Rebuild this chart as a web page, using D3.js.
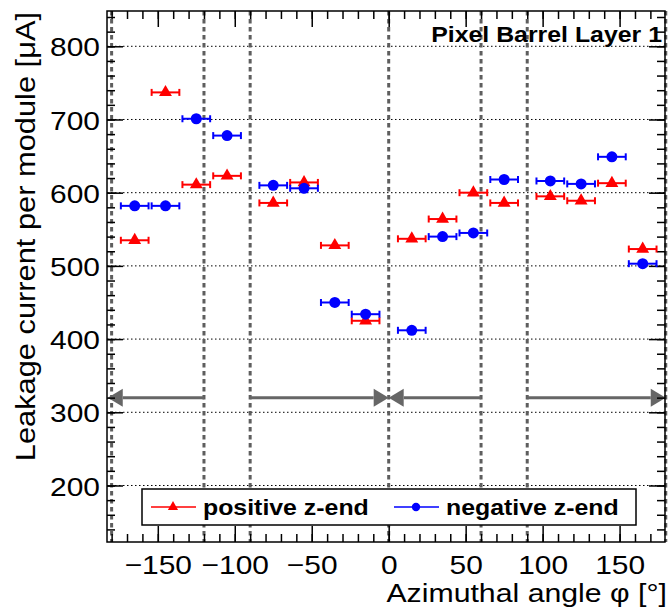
<!DOCTYPE html>
<html>
<head>
<meta charset="utf-8">
<script src="https://cdn.jsdelivr.net/npm/d3@7"></script>
<style>
  body { margin: 0; background: #fff; }
  text { font-family: "Liberation Sans", Arial, Helvetica, sans-serif; }
</style>
</head>
<body>
<svg id="chart" width="672" height="608"></svg>
<script>
// Ladder azimuthal positions (degrees) and leakage current per module (µA)
const phi       = [-165, -145, -125, -105, -75, -55, -35, -15, 15, 35, 55, 75, 105, 125, 145, 165];
const positiveZ = [535, 737, 611, 623, 586, 614, 528, 425, 537, 564, 600, 586, 595, 589, 613, 523];
const negativeZ = [582, 582, 701, 678, 610, 606, 450, 434, 412, 540, 545, 618, 616, 612, 649, 503];
const phiHalfWidth = 9;

// Axis ticks
const xMajorTicks = [-150, -100, -50, 0, 50, 100, 150];
const xMinorTicks = d3.range(-180, 180, 10);
const yMajorTicks = [200, 300, 400, 500, 600, 700, 800];
const yMinorTicks = d3.range(140, 848, 20);

// Cooling-loop sector boundaries and flow arrows [from, tip]
const sectorEdges = [-180, -120, -90, 0, 60, 90, 180];
const arrowLevel = 320;
const arrowFrom = [-120, -90, 60, 90];
const arrowTip  = [-182.5, 0, 0, 180];

const seriesNames = ["positive z-end", "negative z-end"];
const seriesColors = ["#ff0000", "#0000ff"];

const svg = d3.select("#chart");
const pLeft = 107, pRight = 665, pTop = 11, pBottom = 542;

const x = d3.scaleLinear().domain([-183, 179.5]).range([pLeft, pRight]);
const y = d3.scaleLinear().domain([122.8, 848.2]).range([pBottom, pTop]);

// horizontally widen a text element by factor k
function stretch(sel, k) {
  sel.each(function () {
    const w = this.getComputedTextLength();
    d3.select(this).attr("textLength", w * k).attr("lengthAdjust", "spacingAndGlyphs");
  });
}

// horizontal dotted grid
svg.append("g").selectAll("line").data(yMajorTicks).join("line")
  .attr("x1", pLeft).attr("x2", pRight)
  .attr("y1", d => y(d)).attr("y2", d => y(d))
  .attr("stroke", "#000").attr("stroke-width", 1)
  .attr("stroke-dasharray", "1.5,2.5");

// sector boundaries
svg.append("g").selectAll("line").data(sectorEdges).join("line")
  .attr("x1", d => x(d)).attr("x2", d => x(d))
  .attr("y1", pTop).attr("y2", pBottom)
  .attr("stroke", "#5e5e5e").attr("stroke-width", 3)
  .attr("stroke-dasharray", "4.5,3.5");

// flow arrows
const arrowG = svg.append("g");
const headLen = 15, headHalf = 9;
arrowFrom.forEach((f, i) => {
  const t = arrowTip[i];
  const dir = Math.sign(t - f);
  const ay = y(arrowLevel);
  const xt = x(t), xb = xt - dir * headLen;
  arrowG.append("line")
    .attr("x1", x(f)).attr("x2", xb).attr("y1", ay).attr("y2", ay)
    .attr("stroke", "#666").attr("stroke-width", 3);
  arrowG.append("path")
    .attr("d", `M${xt},${ay} L${xb},${ay - headHalf} L${xb},${ay + headHalf} Z`)
    .attr("fill", "#666");
});

// axes ticks (pointing inward, mirrored on opposite sides)
function tickLines(axis, transform) {
  const g = svg.append("g").attr("transform", transform).call(axis);
  g.select(".domain").remove();
  g.selectAll("line").attr("stroke", "#000").attr("stroke-width", 1.5);
  return g;
}
const tl = t => t.tickFormat("");
tickLines(tl(d3.axisBottom(x).tickValues(xMinorTicks).tickSize(-8)), `translate(0,${pBottom})`);
tickLines(tl(d3.axisTop(x).tickValues(xMinorTicks).tickSize(-8)), `translate(0,${pTop})`);
tickLines(tl(d3.axisTop(x).tickValues(xMajorTicks).tickSize(-16)), `translate(0,${pTop})`);
tickLines(tl(d3.axisLeft(y).tickValues(yMinorTicks).tickSize(-8)), `translate(${pLeft},0)`);
tickLines(tl(d3.axisRight(y).tickValues(yMinorTicks).tickSize(-8)), `translate(${pRight},0)`);
tickLines(tl(d3.axisRight(y).tickValues(yMajorTicks).tickSize(-16)), `translate(${pRight},0)`);

// major ticks with labels
const xAx = svg.append("g").attr("transform", `translate(0,${pBottom})`)
  .call(d3.axisBottom(x).tickValues(xMajorTicks).tickSize(-16).tickFormat(d3.format("d")));
xAx.select(".domain").remove();
xAx.selectAll("line").attr("stroke", "#000").attr("stroke-width", 1.5);
xAx.selectAll("text").attr("y", 32).attr("dy", null)
  .attr("font-size", 26).attr("fill", "#000").call(stretch, 1.15);

const yAx = svg.append("g").attr("transform", `translate(${pLeft},0)`)
  .call(d3.axisLeft(y).tickValues(yMajorTicks).tickSize(-16).tickFormat(d3.format("d")));
yAx.select(".domain").remove();
yAx.selectAll("line").attr("stroke", "#000").attr("stroke-width", 1.5);
yAx.selectAll("text").attr("x", -7).attr("dy", "0.36em")
  .attr("font-size", 26.5).attr("fill", "#000").call(stretch, 1.13);

// frame
svg.append("rect").attr("x", pLeft).attr("y", pTop)
  .attr("width", pRight - pLeft).attr("height", pBottom - pTop)
  .attr("fill", "none").attr("stroke", "#000").attr("stroke-width", 1.5);

// data series
const triangle = d3.symbol().type(d3.symbolTriangle).size(72);
const circle = d3.symbol().type(d3.symbolCircle).size(95);

function drawSeries(values, color, symbol) {
  const g = svg.append("g");
  const pts = phi.map((p, i) => ({ p, v: values[i] }));
  const eb = g.selectAll("g.eb").data(pts).join("g").attr("class", "eb");
  eb.append("line")
    .attr("x1", d => x(d.p - phiHalfWidth)).attr("x2", d => x(d.p + phiHalfWidth))
    .attr("y1", d => y(d.v)).attr("y2", d => y(d.v))
    .attr("stroke", color).attr("stroke-width", 2);
  [-1, 1].forEach(s => {
    eb.append("line")
      .attr("x1", d => x(d.p + s * phiHalfWidth)).attr("x2", d => x(d.p + s * phiHalfWidth))
      .attr("y1", d => y(d.v) - 3.5).attr("y2", d => y(d.v) + 3.5)
      .attr("stroke", color).attr("stroke-width", 2);
  });
  g.selectAll("path").data(pts).join("path")
    .attr("d", symbol)
    .attr("transform", d => `translate(${x(d.p)},${y(d.v)})`)
    .attr("fill", color);
}
drawSeries(positiveZ, seriesColors[0], triangle);
drawSeries(negativeZ, seriesColors[1], circle);

// legend
const lg = svg.append("g");
lg.append("rect").attr("x", 142).attr("y", 489).attr("width", 494).attr("height", 36)
  .attr("fill", "#fff").attr("stroke", "#000").attr("stroke-width", 1.5);
const legendSymbols = [d3.symbol().type(d3.symbolTriangle).size(45), d3.symbol().type(d3.symbolCircle).size(55)];
const legendX = [151, 394];
seriesNames.forEach((name, i) => {
  const lx = legendX[i], ly = 507;
  lg.append("line").attr("x1", lx).attr("x2", lx + 45).attr("y1", ly).attr("y2", ly)
    .attr("stroke", seriesColors[i]).attr("stroke-width", 1.5);
  lg.append("path").attr("d", legendSymbols[i]).attr("transform", `translate(${lx + 22},${ly})`)
    .attr("fill", seriesColors[i]);
  lg.append("text").attr("x", lx + 52).attr("y", ly + 8)
    .attr("font-size", 22).attr("font-weight", "bold").text(name).call(stretch, 1.13);
});

// labels
svg.append("text").attr("x", 667).attr("y", 602).attr("text-anchor", "end")
  .attr("font-size", 25).attr("dominant-baseline", "alphabetic").text("Azimuthal angle φ [°]").call(stretch, 1.21);

svg.append("text").attr("x", 662).attr("y", 42).attr("text-anchor", "end")
  .attr("font-size", 22).attr("font-weight", "bold").text("Pixel Barrel Layer 1").call(stretch, 1.13);

svg.append("text").attr("transform", "translate(35,12) rotate(-90)").attr("text-anchor", "end")
  .attr("font-size", 27.5).text("Leakage current per module [μA]").call(stretch, 1.12);
</script>
</body>
</html>
